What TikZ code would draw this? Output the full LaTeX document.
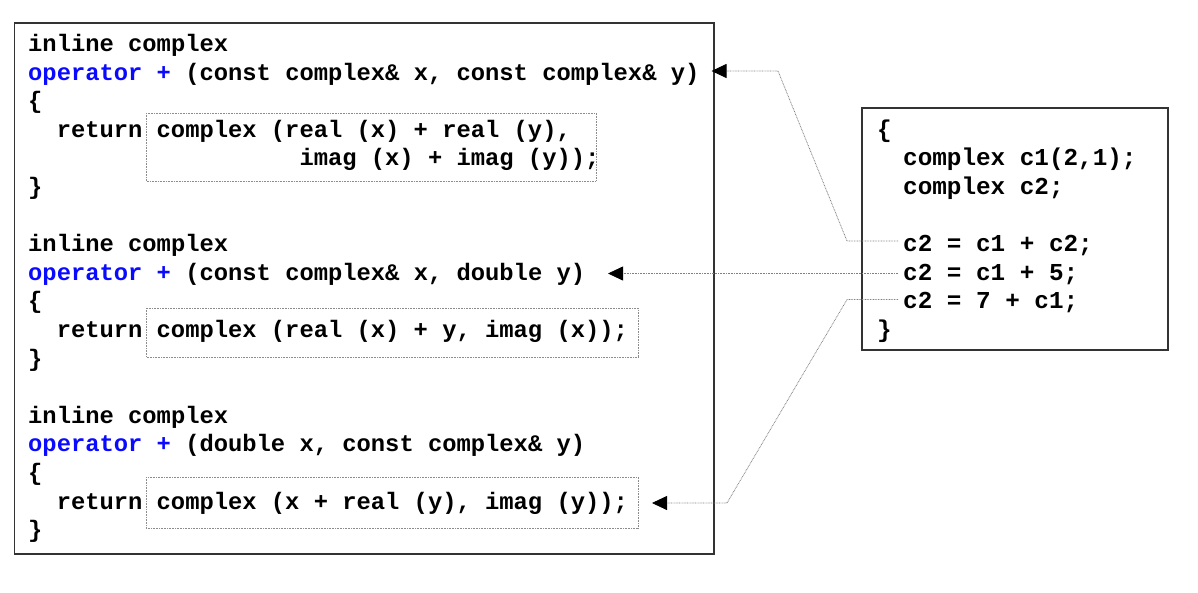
\documentclass[tikz,border=0pt]{standalone}
\usepackage{fontspec}
\setmonofont{Liberation Mono}
\usetikzlibrary{arrows.meta}
\definecolor{kw}{RGB}{10,10,255}
\tikzset{
  code/.style={inner sep=0pt, anchor=base west, font=\ttfamily\bfseries\fontsize{23.8}{28.6}\selectfont},
  rcode/.style={inner sep=0pt, anchor=base west, font=\ttfamily\bfseries\fontsize{24.3}{28.6}\selectfont},
  frame/.style={draw=black!80, line width=1.2pt},
  dotbox/.style={draw=black!45, line width=0.8pt, dash pattern=on 0.8pt off 0.8pt},
  conn/.style={draw=black!50, line width=0.8pt, dash pattern=on 0.8pt off 0.8pt},
  tip/.style={-{Triangle[length=15pt,width=14pt,color=black]}}
}
\begin{document}
\begin{tikzpicture}[x=1pt,y=-1pt]
\frenchspacing
\useasboundingbox (0,0) rectangle (1198,592);
% frames
\draw[frame] (14.5,23) rectangle (714,554);
\draw[frame] (862,108) rectangle (1168,350);
% dotted boxes
\draw[dotbox] (146,113) rectangle (596,181);
\draw[dotbox] (146,308) rectangle (638,357);
\draw[dotbox] (146,477) rectangle (638,528);
% left code, block 1
\node[code] (l0) at (28,51.5) {inline complex};
\node[code] (l1) at (28,80.1) {\textcolor{kw}{operator +} (const complex\& x, const complex\& y)};
\node[code] (l2) at (28,108.7) {\{};
\node[code] (l3a) at (56.6,137.3) {return};
\node[code] (l3b) at (156.5,137.3) {complex (real (x) + real (y),};
\node[code] (l4) at (299.3,165.9) {imag (x) + imag (y));};
\node[code] (l5) at (28,194.5) {\}};
% block 2
\node[code] (l7) at (28,251.7) {inline complex};
\node[code] (l8) at (28,280.3) {\textcolor{kw}{operator +} (const complex\& x, double y)};
\node[code] (l9) at (28,308.9) {\{};
\node[code] (l10a) at (56.6,337.5) {return};
\node[code] (l10b) at (156.5,337.5) {complex (real (x) + y, imag (x));};
\node[code] (l11) at (28,366.1) {\}};
% block 3
\node[code] (l13) at (28,423.3) {inline complex};
\node[code] (l14) at (28,451.9) {\textcolor{kw}{operator +} (double x, const complex\& y)};
\node[code] (l15) at (28,480.5) {\{};
\node[code] (l16a) at (56.6,509.1) {return};
\node[code] (l16b) at (156.5,509.1) {complex (x + real (y), imag (y));};
\node[code] (l17) at (28,537.7) {\}};
% right code
\node[rcode] (r3) at (877,137.3) {\{};
\node[rcode] (r4) at (903,165.9) {complex c1(2,1);};
\node[rcode] (r5) at (903,194.5) {complex c2;};
\node[rcode] (r7) at (903,251.7) {c2 = c1 + c2;};
\node[rcode] (r8) at (903,280.3) {c2 = c1 + 5;};
\node[rcode] (r9) at (903,308.9) {c2 = 7 + c1;};
\node[rcode] (r10) at (877,337.5) {\}};
% connector points
\coordinate (s1) at (898,241);
\coordinate (b1a) at (847,241);
\coordinate (b1b) at (778,71);
\coordinate (t1) at (711.5,71);
\coordinate (s2) at (898,273.5);
\coordinate (t2) at (608,273.5);
\coordinate (s3) at (898,299.5);
\coordinate (b3a) at (847,299.5);
\coordinate (b3b) at (727,503);
\coordinate (t3) at (652,503);
\draw[conn,tip] (s1) -- (b1a) -- (b1b) -- (t1);
\draw[conn,tip] (s2) -- (t2);
\draw[conn,tip] (s3) -- (b3a) -- (b3b) -- (t3);
\end{tikzpicture}
\end{document}
